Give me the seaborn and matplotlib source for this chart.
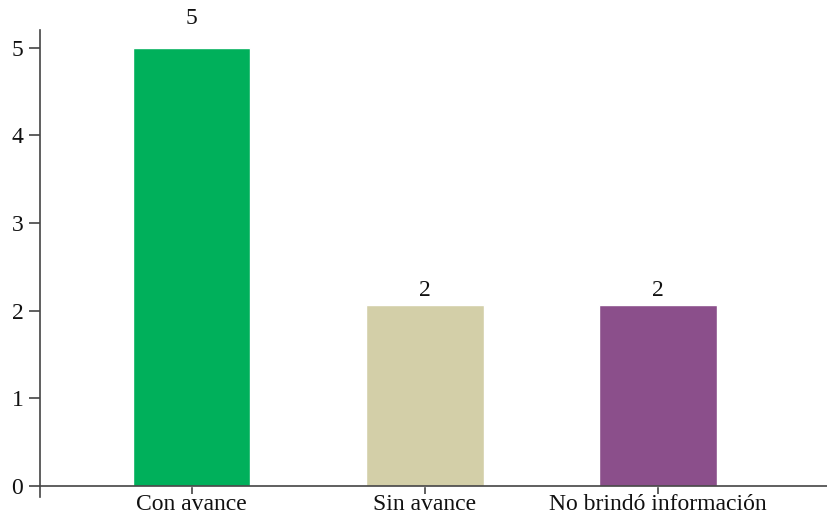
import matplotlib
matplotlib.use("Agg")
import matplotlib.pyplot as plt
import seaborn as sns
import pandas as pd

# ============ DATOS ============
categorias = ["Con avance", "Sin avance", "No brindó información"]
valores = [5, 2.06, 2.06]
etiquetas = ["5", "2", "2"]
colores = ["#00B05B", "#D3CFA8", "#8B4F8B"]
# ===============================

df = pd.DataFrame({"categoria": categorias, "valor": valores})

sns.set_style("white")
plt.rcParams['font.family'] = ['Liberation Serif', 'DejaVu Serif']

fig = plt.figure(figsize=(8.28, 5.15), dpi=100)
ax = fig.add_axes([40 / 828, 18 / 515, 788 / 828, 467 / 515])

sns.barplot(data=df, x="categoria", y="valor", hue="categoria",
            palette=colores, width=0.505, legend=False, ax=ax, saturation=1)

# el 5 queda más separado de su barra que los 2
rellenos = [13, 3, 3]
for cont, txt, pad in zip(ax.containers, etiquetas, rellenos):
    ax.bar_label(cont, labels=[txt], padding=pad, fontsize=17, color="#111111")

ax.set_xlim(-0.65, 2.73)
ax.set_ylim(-0.125, 5.2)
ax.set_yticks(range(6))
ax.set_xlabel("")
ax.set_ylabel("")

for s in ["top", "right"]:
    ax.spines[s].set_visible(False)
ax.spines["bottom"].set_position(("data", 0))
for s in ["left", "bottom"]:
    ax.spines[s].set_color("#444444")
    ax.spines[s].set_linewidth(1.2)

ax.tick_params(axis="both", direction="out", length=8, width=1.2,
               color="#444444", labelsize=17, labelcolor="#111111", pad=4,
               left=True, bottom=True)
ax.tick_params(axis="x", length=6, pad=0)

fig.savefig("out.png", dpi=100)
